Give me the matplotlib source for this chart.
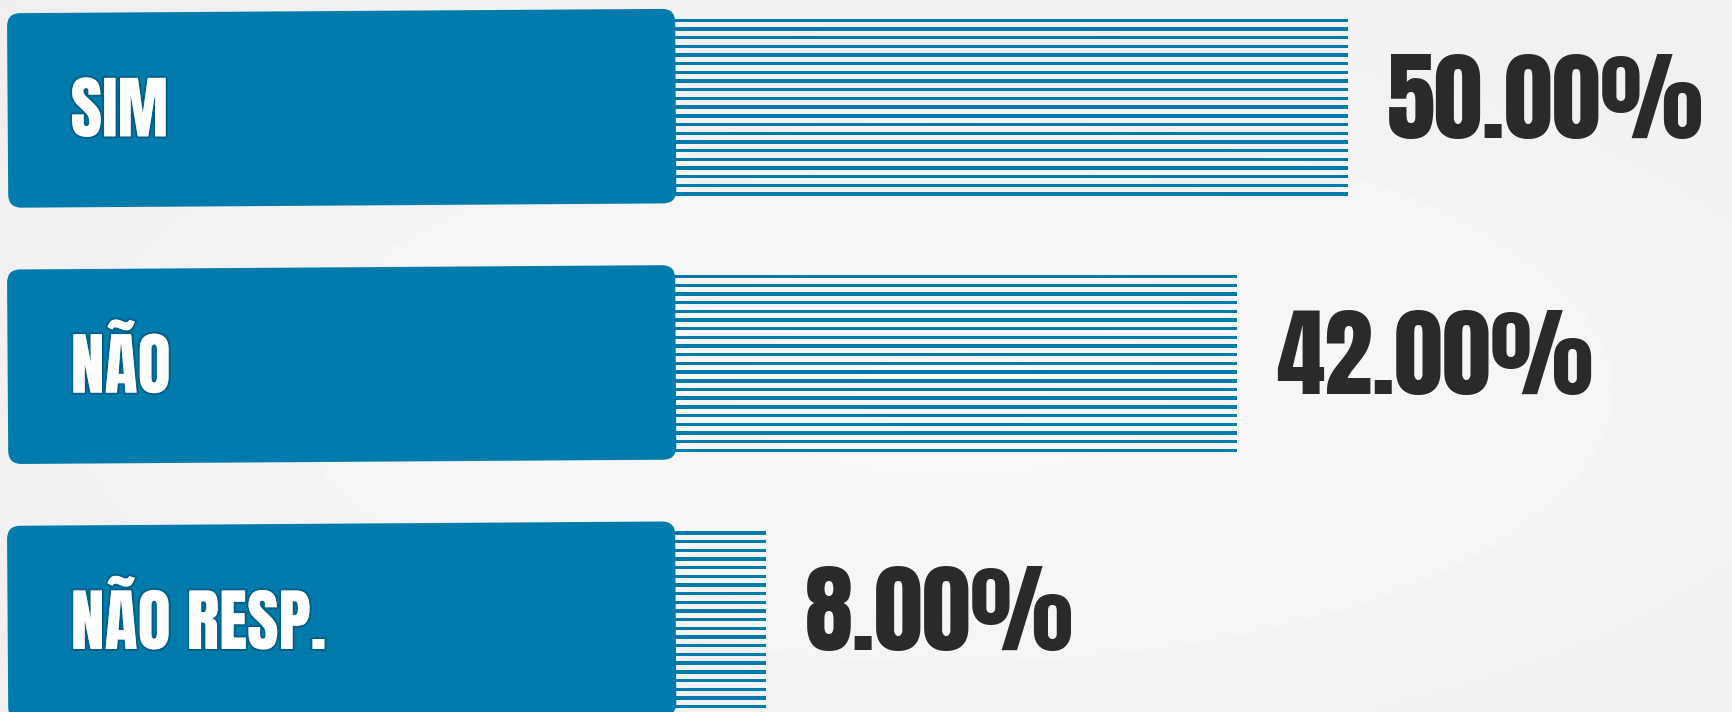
import numpy as np
import matplotlib.pyplot as plt
from matplotlib.patches import FancyBboxPatch
from matplotlib.transforms import Affine2D
import matplotlib.patheffects as pe

categories = ["SIM", "NÃO", "NÃO RESP."]
values = [50.00, 42.00, 8.00]
pct_labels = ["50.00%", "42.00%", "8.00%"]

blue = "#007bab"
dark = "#2a2a2a"
label_font = ["Anton", "Fira Sans Extra Condensed", "DejaVu Sans"]
pct_font = ["Anton", "Fira Sans Extra Condensed", "DejaVu Sans"]

fig = plt.figure(figsize=(17.32, 7.12), dpi=100)
ax = fig.add_axes([0, 0, 1, 1])

# soft grey background, lighter in the middle
yy, xx = np.mgrid[0:1:200j, 0:1:400j]
r = np.sqrt(((xx - 0.55) / 1.0) ** 2 + ((yy - 0.55) / 1.0) ** 2)
bg = np.clip(0.98 - 0.06 * r, 0, 1)
ax.imshow(bg, cmap="gray", vmin=0, vmax=1, extent=[0, 1, 0, 1],
          transform=ax.transAxes, aspect="auto", zorder=0, interpolation="bicubic")

ax.set_xlim(-47.25, 77.7)
ax.set_ylim(2.36, -0.418)
ax.axis("off")

# striped bars: 21 thin bars per category
offsets = np.linspace(-0.339, 0.339, 21)
for i, v in enumerate(values):
    ax.barh(i + offsets, v, height=0.0132, color=blue, zorder=2)

# blue label boxes, slightly tilted
for i, cat in enumerate(categories):
    box = FancyBboxPatch((-46.7, i - 0.375), 48.2, 0.759,
                         boxstyle="round,pad=0,rounding_size=0.96",
                         mutation_aspect=0.054, fc=blue, ec="none", zorder=3)
    cx, cy = ax.transData.transform((-22.6, i))
    box.set_transform(ax.transData + Affine2D().rotate_deg_around(cx, cy, 0.38))
    ax.add_patch(box)
    ax.text(-42.15, i + 0.114, cat, color="white", fontsize=49,
            family=label_font, va="baseline", ha="left", zorder=4,
            path_effects=[pe.withStroke(linewidth=3, foreground=(0, 0.18, 0.28, 0.35))])

for i, v in enumerate(values):
    ax.text(v + 2.8, i + 0.12, pct_labels[i], color=dark, fontsize=70,
            family=pct_font, va="baseline", ha="left", zorder=4)

fig.savefig("out.png", dpi=100, facecolor="#efefef")
